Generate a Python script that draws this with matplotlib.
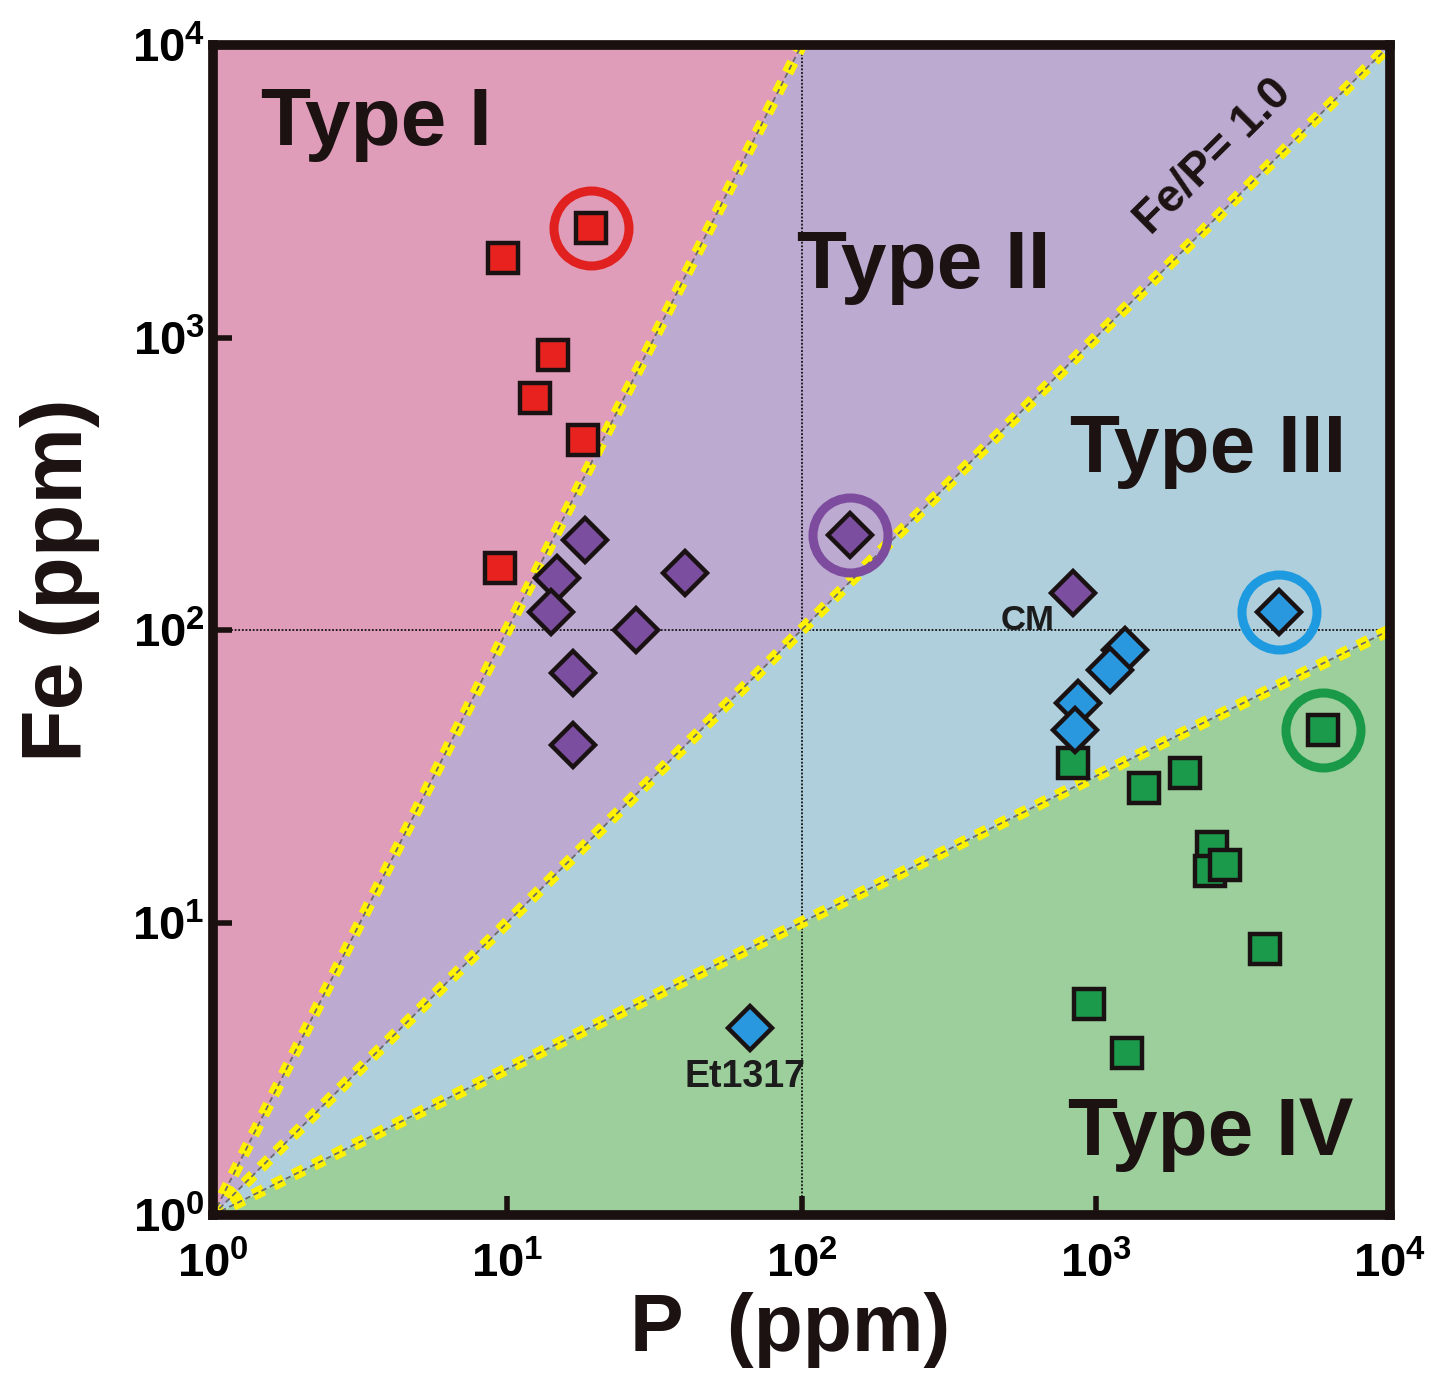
import numpy as np
import matplotlib
matplotlib.use('Agg')
import matplotlib.pyplot as plt

plt.rcParams['font.family'] = ['Liberation Sans', 'DejaVu Sans']
plt.rcParams['mathtext.fontset'] = 'custom'
plt.rcParams['mathtext.rm'] = 'Liberation Sans:bold'
plt.rcParams['mathtext.it'] = 'Liberation Sans:bold'
plt.rcParams['mathtext.bf'] = 'Liberation Sans:bold'

# ---- data (ppm) ----
type1_P = [19.3, 9.7, 14.3, 12.4, 18.1, 9.45]
type1_Fe = [2370, 1870, 871, 621, 446, 163]
type2_P = [18.4, 14.8, 14.1, 40.2, 27.4, 16.7, 16.7, 146, 837]
type2_Fe = [203, 150, 115, 157, 100, 71.3, 40.4, 211, 134]
type3_P = [4200, 1257, 1117, 870, 850, 66.8]
type3_Fe = [115, 85.5, 73, 56.3, 45.5, 4.36]
type4_P = [5920, 837, 1459, 2010, 2484, 2445, 2750, 3760, 948, 1277]
type4_Fe = [45.5, 35.1, 28.8, 32.4, 18.1, 15.0, 15.7, 8.1, 5.27, 3.58]

# circled samples
circ_P = [19.3, 146, 4200, 5920]
circ_Fe = [2370, 211, 115, 45.5]
circ_colors = ['#E1211F', '#7D4C9E', '#1E9BE0', '#1A9A48']

# type boundaries: Fe = P**k
bound_k = [2.0, 1.0, 0.5]
region_colors = ['#E09DB9', '#BCAAD1', '#AFCFDC', '#9DCF9C']

tick_vals = [1, 10, 100, 1000, 10000]
tick_labels = [r'$10^{0}$', r'$10^{1}$', r'$10^{2}$', r'$10^{3}$', r'$10^{4}$']

# ---- plot ----
fig = plt.figure(figsize=(14.38, 13.85), dpi=100)
ax = fig.add_axes([213/1438, 1-1215/1385, 1177/1438, 1170/1385])
ax.set_xscale('log')
ax.set_yscale('log')
ax.set_xlim(1, 1e4)
ax.set_ylim(1, 1e4)

P = np.logspace(0, 4, 600)
b = [np.minimum(P**k, 1e4) for k in bound_k]
ax.fill_between(P, b[0], 1e4, color=region_colors[0], lw=0, zorder=0)
ax.fill_between(P, b[1], b[0], color=region_colors[1], lw=0, zorder=0)
ax.fill_between(P, b[2], b[1], color=region_colors[2], lw=0, zorder=0)
ax.fill_between(P, 1, b[2], color=region_colors[3], lw=0, zorder=0)

# cross lines
ax.axvline(100, color='#111111', lw=1.3, ls=(0, (1, 1)), zorder=1)
ax.axhline(100, color='#111111', lw=1.3, ls=(0, (1, 1)), zorder=1)

# boundary lines, cut at the top of the frame
for k in bound_k:
    pk = np.logspace(0, min(4, 4 / k), 400)
    ax.plot(pk, pk**k, color='#FFF200', lw=8.5, ls=(0, (1.0, 0.9)),
            dash_capstyle='butt', zorder=2)
    ax.plot(pk, pk**k, color='#6a6a6a', lw=1.3, ls=(0, (3, 2)), zorder=2.1)

mk = dict(ls='none', mec='#1a1212', mew=3.2, zorder=5)
ax.plot(type4_P, type4_Fe, marker='s', ms=21, mfc='#1C9A4B', **mk)
ax.plot(type1_P, type1_Fe, marker='s', ms=21, mfc='#E8231F', **mk)
ax.plot(type2_P, type2_Fe, marker='D', ms=22, mfc='#7C4E9F', **mk)
ax.plot(type3_P, type3_Fe, marker='D', ms=22, mfc='#2A98DF', **mk)

for x, y, c in zip(circ_P, circ_Fe, circ_colors):
    ax.plot([x], [y], marker='o', ms=54, mfc='none', mec=c, mew=6.5, zorder=6)

# text
tk = dict(fontsize=59, fontweight='bold', color='#1c1212', transform=ax.transAxes,
          ha='left', va='baseline', zorder=7)
ax.text(0.041, 0.9145, 'Type I', **tk)
ax.text(0.496, 0.792, 'Type II', **tk)
ax.text(0.728, 0.635, 'Type III', **tk)
ax.text(0.726, 0.0513, 'Type IV', **tk)

ax.text(727, 108, 'CM', fontsize=25, fontweight='bold', color='#1c1c1c',
        ha='right', va='center', zorder=7)
ax.text(64.3, 2.96, 'Et1317', fontsize=27, fontweight='bold', color='#1c1c1c',
        ha='center', va='center', zorder=7)
ax.text(0.85, 0.905, 'Fe/P= 1.0', fontsize=33, fontweight='bold', color='#1c1212',
        rotation=44.8, ha='center', va='center', transform=ax.transAxes, zorder=7)

# axes styling
for s in ax.spines.values():
    s.set_linewidth(7)
    s.set_color('#1a1010')
    s.set_zorder(10)
ax.set_xticks(tick_vals, tick_labels)
ax.set_yticks(tick_vals, tick_labels)
ax.minorticks_off()
ax.tick_params(direction='in', length=14, width=4, color='#1a1010',
               labelsize=34, top=False, right=False)
ax.tick_params(axis='x', pad=20)
ax.tick_params(axis='y', pad=6)

fig.text(790/1438, 1-1330/1385, 'P  (ppm)', fontsize=58, fontweight='bold',
         ha='center', va='center', color='#1c1212')
fig.text(60/1438, 1-580/1385, 'Fe (ppm)', fontsize=62, fontweight='bold',
         ha='center', va='center', rotation=90, color='#1c1212')

plt.savefig('out.png', dpi=100)
